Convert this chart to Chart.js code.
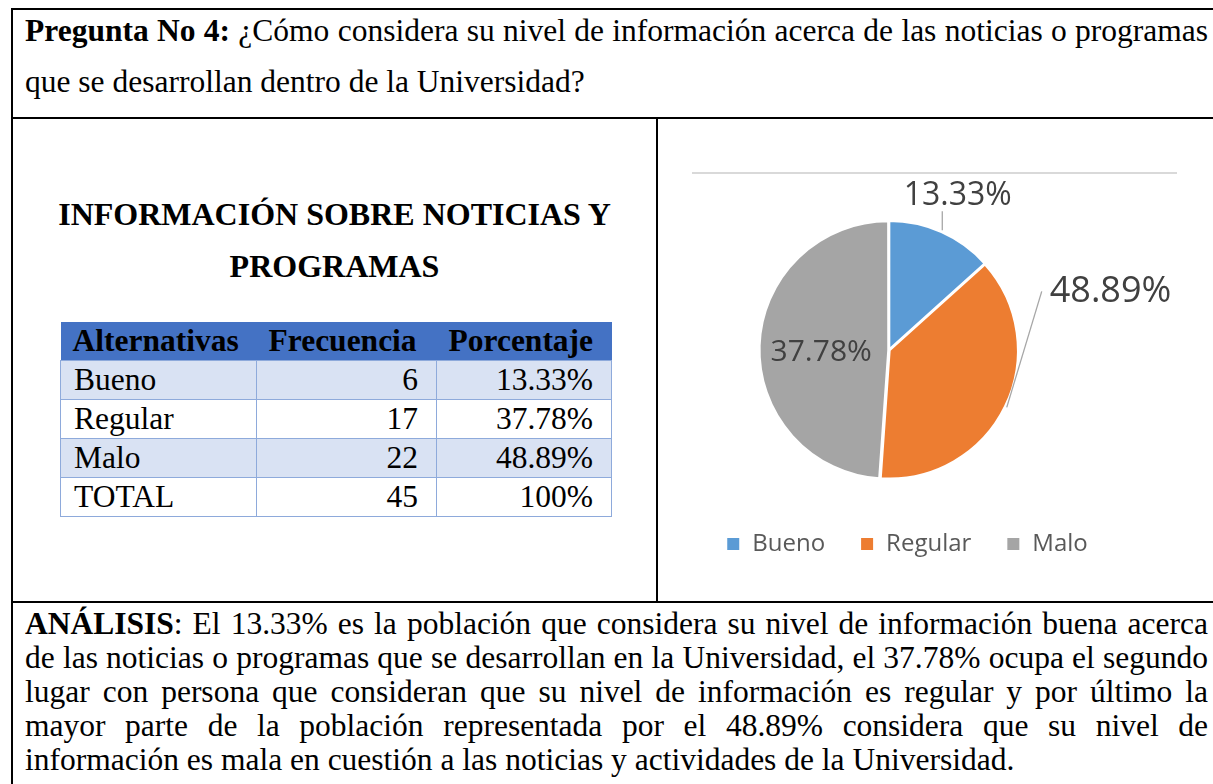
<!DOCTYPE html>
<html lang="es">
<head>
<meta charset="utf-8">
<title>Pregunta No 4</title>
<script src="https://cdn.jsdelivr.net/npm/chart.js@4.4.1/dist/chart.umd.min.js"></script>
<style>
  html, body { margin: 0; padding: 0; background: #fff; }
  body {
    width: 1213px; height: 784px; overflow: hidden; position: relative;
    font-family: "Liberation Serif", "Times New Roman", serif; color: #000;
  }
  .raya { position: absolute; background: #000; }
  .txt { position: absolute; font-size: 31.5px; line-height: 34px; white-space: normal; }
  .just { text-align: justify; text-align-last: justify; }
  .titulo { position: absolute; left: 13px; width: 643px; text-align: center; font-weight: bold; font-size: 32px; line-height: 34px; }
  #tabla { position: absolute; left: 60px; top: 322px; border-collapse: collapse; font-size: 31.5px; }
  #tabla th { background: #4472C4; height: 38px; padding: 0 0 0 12px; text-align: left; font-weight: bold; line-height: 30px; }
  #tabla td { border: 1.5px solid #8EAADB; height: 38px; padding: 0 18px 0 13px; line-height: 30px; }
  #tabla td.num { text-align: right; }
  #tabla tr.claro td { background: #D9E2F3; }
  #marco { position: absolute; left: 692px; top: 172px; width: 485px; height: 1.5px; background: #d9d9d9; }
  #grafico { position: absolute; left: 660px; top: 120px; }
</style>
</head>
<body>
<!-- bordes de la tabla del documento -->
<div class="raya" style="left:11px;top:8px;width:1202px;height:2px"></div>
<div class="raya" style="left:11px;top:8px;width:2px;height:776px"></div>
<div class="raya" style="left:11px;top:117px;width:1202px;height:2px"></div>
<div class="raya" style="left:656px;top:117px;width:2px;height:486px"></div>
<div class="raya" style="left:11px;top:601px;width:1202px;height:2px"></div>

<div class="txt just" style="left:25px;top:14px;width:1183px"><b>Pregunta No 4:</b> ¿Cómo considera su nivel de información acerca de las noticias o programas</div>
<div class="txt" style="left:25px;top:65px;width:1183px">que se desarrollan dentro de la Universidad?</div>

<div class="titulo" style="top:197px">INFORMACIÓN SOBRE NOTICIAS Y</div>
<div class="titulo" style="top:249px">PROGRAMAS</div>

<table id="tabla">
  <colgroup><col style="width:196px"><col style="width:180px"><col style="width:175px"></colgroup>
  <thead><tr><th>Alternativas</th><th>Frecuencia</th><th>Porcentaje</th></tr></thead>
  <tbody></tbody>
</table>

<div id="marco"></div>
<canvas id="grafico" width="553" height="480"></canvas>

<div class="txt just" style="left:25px;top:607px;width:1183px"><b>ANÁLISIS</b>: El 13.33% es la población que considera su nivel de información buena acerca</div>
<div class="txt just" style="left:25px;top:641px;width:1183px">de las noticias o programas que se desarrollan en la Universidad, el 37.78% ocupa el segundo</div>
<div class="txt just" style="left:25px;top:675px;width:1183px">lugar con persona que consideran que su nivel de información es regular y por último la</div>
<div class="txt just" style="left:25px;top:709px;width:1183px">mayor parte de la población representada por el 48.89% considera que su nivel de</div>
<div class="txt" style="left:25px;top:743px;width:1183px">información es mala en cuestión a las noticias y actividades de la Universidad.</div>

<script>
const categorias = ['Bueno', 'Regular', 'Malo'];
const frecuencias = [6, 17, 22];
const porcentajes = ['13.33%', '37.78%', '48.89%'];
const totalFrecuencia = 45;
const totalPorcentaje = '100%';
// etiquetas tal como aparecen sobre las porciones del gráfico
const etiquetasGrafico = ['13.33%', '48.89%', '37.78%'];
const colores = ['#5B9BD5', '#ED7D31', '#A5A5A5'];

// tabla de frecuencias
const tbody = document.querySelector('#tabla tbody');
categorias.concat(['TOTAL']).forEach((cat, i) => {
    const tr = document.createElement('tr');
    if (i % 2 === 0) tr.className = 'claro';
    const frec = i < categorias.length ? frecuencias[i] : totalFrecuencia;
    const porc = i < categorias.length ? porcentajes[i] : totalPorcentaje;
    tr.innerHTML = '<td>' + cat + '</td><td class="num">' + frec + '</td><td class="num">' + porc + '</td>';
    tbody.appendChild(tr);
});

// etiquetas de datos con líneas guía
const etiquetasPie = {
    id: 'etiquetasPie',
    afterDatasetsDraw(chart, args, opts) {
        const ctx = chart.ctx;
        const meta = chart.getDatasetMeta(0);
        ctx.save();
        meta.data.forEach((arc, i) => {
            const p = arc.getProps(['x', 'y', 'startAngle', 'endAngle', 'outerRadius'], true);
            const mid = (p.startAngle + p.endAngle) / 2;
            const conf = opts.posiciones[i];
            const desp = arc.options.offset || 0;
            if (conf.guia) {
                const bx = p.x + Math.cos(mid) * (p.outerRadius + desp);
                const by = p.y + Math.sin(mid) * (p.outerRadius + desp);
                ctx.strokeStyle = opts.colorGuia;
                ctx.lineWidth = 1.3;
                ctx.beginPath();
                ctx.moveTo(bx, by);
                ctx.lineTo(bx + conf.guia[0], by + conf.guia[1]);
                ctx.stroke();
            }
            const ang = mid + conf.giro * Math.PI / 180;
            const r = p.outerRadius * conf.radio;
            ctx.font = conf.tam + "px 'Open Sans', sans-serif";
            ctx.fillStyle = opts.color;
            ctx.textAlign = 'center';
            ctx.textBaseline = 'middle';
            ctx.fillText(etiquetasGrafico[i], p.x + Math.cos(ang) * r, p.y + Math.sin(ang) * r);
        });
        ctx.restore();
    }
};

// la leyenda de Excel queda algo a la derecha del centro del pastel
const moverLeyenda = {
    id: 'moverLeyenda',
    afterLayout(chart, args, opts) {
        chart.legend.left += opts.dx;
        chart.legend.right += opts.dx;
    }
};

new Chart(document.getElementById('grafico'), {
    type: 'pie',
    data: {
        labels: categorias,
        datasets: [{
            data: frecuencias,
            backgroundColor: colores,
            borderColor: '#ffffff',
            borderWidth: 2,
            offset: 3,
            radius: 128
        }]
    },
    options: {
        responsive: false,
        animation: false,
        layout: { padding: { left: 0, right: 95, top: 83, bottom: 34 } },
        plugins: {
            tooltip: { enabled: false },
            legend: {
                position: 'bottom',
                labels: {
                    boxWidth: 14,
                    boxHeight: 14,
                    padding: 35,
                    color: '#595959',
                    font: { family: "'Open Sans', sans-serif", size: 24 }
                }
            },
            etiquetasPie: {
                color: '#404040',
                colorGuia: '#a6a6a6',
                posiciones: [
                    { radio: 1.32, giro: 0, tam: 32, guia: [0, -19] },
                    { radio: 1.79, giro: -40.8, tam: 36, guia: [35, -116] },
                    { radio: 0.53, giro: -4, tam: 30, guia: null }
                ]
            },
            moverLeyenda: { dx: 18 }
        }
    },
    plugins: [etiquetasPie, moverLeyenda]
});
</script>
</body>
</html>
